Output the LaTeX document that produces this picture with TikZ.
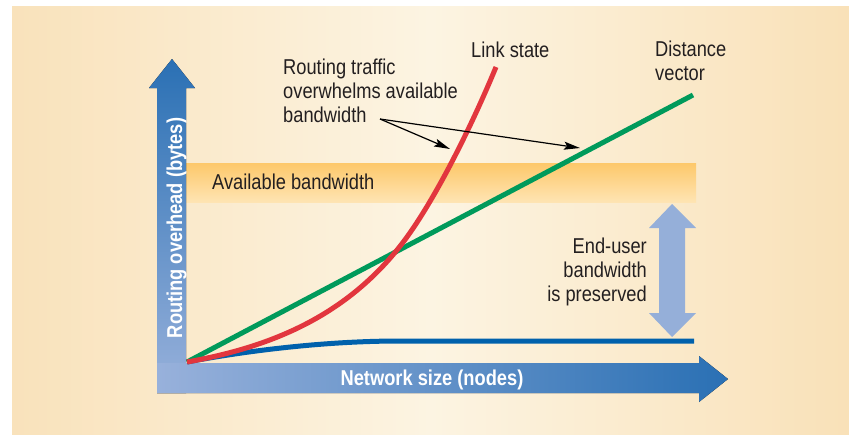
\documentclass[tikz,border=0pt]{standalone}
\usepackage{fontspec}
\setmainfont{Liberation Sans}[FakeStretch=0.85]
\usetikzlibrary{arrows.meta}
\definecolor{bgL}{HTML}{F9E2BB}
\definecolor{bgM}{HTML}{FCF4E2}
\definecolor{bgR}{HTML}{F9E1B8}
\definecolor{bandT}{HTML}{FDC86A}
\definecolor{bandB}{HTML}{FEE4B3}
\definecolor{axL}{HTML}{98B1DB}
\definecolor{axD}{HTML}{2A70B4}
\definecolor{dbl}{HTML}{95AFD9}
\definecolor{lsred}{HTML}{E2363E}
\definecolor{dvgreen}{HTML}{009A5B}
\definecolor{eublue}{HTML}{0061AC}
\definecolor{txt}{HTML}{231F20}
\begin{document}
\begin{tikzpicture}[x=1pt,y=-1pt,
  lbl/.style={font=\fontsize{21.5}{24}\selectfont, text=txt, inner sep=0pt},
  axlbl/.style={font=\fontsize{21.5}{24}\selectfont\bfseries, text=white, inner sep=0pt},
  curve/.style={line width=5pt},
  annot/.style={line width=1.2pt, draw=black, -{Stealth[length=16pt,width=8pt,inset=3pt]}}]
\useasboundingbox (0,0) rectangle (849,437);
% background
\fill[left color=bgL, right color=bgR, middle color=bgM] (12,6) rectangle (849,434);
% available bandwidth band
\fill[top color=bandT, bottom color=bandB] (186,163) rectangle (696,202);
\node[lbl, anchor=base west] (avail) at (212,189) {Available bandwidth};
% axes
\fill[bottom color=axL, top color=axD] (157,393) -- (157,88) -- (149,88) -- (172,59) -- (195,88) -- (186,88) -- (186,393) -- cycle;
\fill[left color=axL, right color=axD] (157,363) -- (699,363) -- (699,356) -- (728,379) -- (699,402) -- (699,393) -- (157,393) -- cycle;
\node[axlbl, anchor=base, rotate=90] (ylab) at (182,228) {Routing overhead (bytes)};
\node[axlbl, anchor=base] (xlab) at (432,385) {Network size (nodes)};
% double arrow
\fill[dbl] (672,204) -- (696,228) -- (685,228) -- (685,313) -- (696,313) -- (672,337) -- (649,313) -- (659,313) -- (659,228) -- (649,228) -- cycle;
\node[lbl, anchor=north east, align=right] (enduser) at (647,238) {End-user\\bandwidth\\is preserved};
% curves
\coordinate (o) at (187,362);
\coordinate (dvEnd) at (693,95);
\coordinate (lsMid) at (397,250);
\coordinate (lsEnd) at (496,67);
\coordinate (euKnee) at (400,341);
\coordinate (euEnd) at (694,341);
\draw[curve, eublue] (o) .. controls (240,352) and (320,341) .. (euKnee) -- (euEnd);
\draw[curve, dvgreen] (o) -- (dvEnd);
\draw[curve, lsred] (o) .. controls (265,348) and (340,320) .. (lsMid) .. controls (430,210) and (470,130) .. (lsEnd);
% labels
\node[lbl, anchor=base west] (ls) at (471,57) {Link state};
\node[lbl, anchor=north west, align=left] (dv) at (655,41) {Distance\\vector};
\node[lbl, anchor=north west, align=left] (rt) at (283,59) {Routing traffic\\overwhelms available\\bandwidth};
% annotation arrows
\coordinate (ann) at (380,119);
\coordinate (tipA) at (450,149);
\coordinate (tipB) at (580,148);
\draw[annot] (ann) -- (tipA);
\draw[annot] (ann) -- (tipB);
\end{tikzpicture}
\end{document}
